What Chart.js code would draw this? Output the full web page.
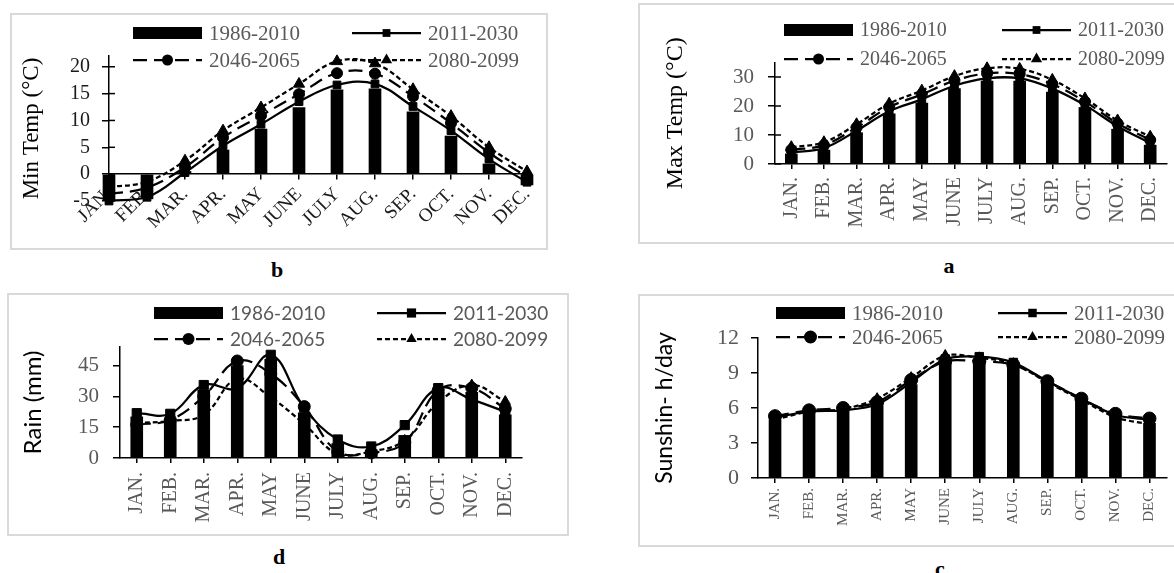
<!DOCTYPE html>
<html>
<head>
<meta charset="utf-8">
<script src="https://cdn.jsdelivr.net/npm/chart.js@4.4.1/dist/chart.umd.min.js"></script>
<style>
  body { margin: 0; width: 1174px; height: 573px; overflow: hidden; background: #fff; position: relative; }
  .box { position: absolute; border: 2px solid #d9d9d9; box-sizing: border-box; }
  canvas { position: absolute; }
  .tag { position: absolute; font: bold 22px "Liberation Serif", serif; transform: translate(-50%, -50%); }
</style>
</head>
<body>
<div class="box" style="left:10px;top:13px;width:538px;height:237px"></div>
<canvas id="chartB" width="538" height="236" style="left:10px;top:13px"></canvas>
<div class="tag" style="left:277px;top:270px">b</div>

<div class="box" style="left:638px;top:3px;width:560px;height:241px"></div>
<canvas id="chartA" width="536" height="240" style="left:638px;top:3px"></canvas>
<div class="tag" style="left:949px;top:266px">a</div>

<div class="box" style="left:7px;top:293px;width:562px;height:243px"></div>
<canvas id="chartD" width="561" height="242" style="left:7px;top:293px"></canvas>
<div class="tag" style="left:279px;top:557px">d</div>

<div class="box" style="left:638px;top:294px;width:560px;height:253px"></div>
<canvas id="chartC" width="536" height="252" style="left:638px;top:294px"></canvas>
<div class="tag" style="left:940px;top:569px">c</div>

<script>
const months = ['JAN.', 'FEB.', 'MAR.', 'APR.', 'MAY', 'JUNE', 'JULY', 'AUG.', 'SEP.', 'OCT.', 'NOV.', 'DEC.'];
const periods = ['1986-2010', '2011-2030', '2046-2065', '2080-2099'];

// b - minimum temperature (°C)
const minTemp1986 = [-4.9, -4.6, 0.5, 4.5, 8.4, 12.4, 15.7, 15.9, 11.6, 7.1, 1.9, -2.0];
const minTemp2011 = [-5.0, -4.3, 0.3, 5.3, 9.3, 13.5, 16.6, 16.8, 12.6, 8.1, 2.8, -1.5];
const minTemp2046 = [-3.7, -2.5, 1.3, 6.8, 10.9, 14.9, 18.8, 18.7, 14.5, 9.5, 4.0, -0.5];
const minTemp2080 = [-2.4, -1.4, 2.5, 8.1, 12.4, 16.8, 21.0, 20.6, 15.8, 10.8, 5.0, 0.5];
const minTempTicks = [-5, 0, 5, 10, 15, 20];

// a - maximum temperature (°C)
const maxTemp1986 = [3.5, 4.8, 10.8, 17.3, 21.0, 26.0, 28.6, 28.6, 24.8, 19.5, 12.0, 6.5];
const maxTemp2011 = [4.0, 5.5, 11.5, 18.2, 22.3, 27.0, 29.5, 29.5, 26.0, 20.3, 13.0, 7.2];
const maxTemp2046 = [4.9, 6.5, 12.6, 19.6, 24.0, 28.7, 31.2, 31.0, 27.5, 21.5, 14.0, 8.3];
const maxTemp2080 = [5.8, 7.5, 13.7, 20.8, 25.3, 30.3, 33.0, 32.8, 29.0, 22.6, 15.0, 9.4];
const maxTempTicks = [0, 10, 20, 30];

// d - rain (mm)
const rain1986 = [20, 19, 33, 45, 48, 22, 7, 4, 11, 32, 32, 21];
const rain2011 = [21.8, 21.5, 35.5, 34.0, 50.2, 24.5, 9.0, 5.6, 16.0, 34.0, 28.5, 22.5];
const rain2046 = [16.2, 18.5, 30.0, 47.2, 41.0, 25.0, 3.0, 2.5, 7.5, 33.0, 34.0, 24.0];
const rain2080 = [17.0, 18.0, 21.0, 38.5, 29.5, 16.5, 2.0, 3.2, 8.5, 27.0, 35.5, 27.5];
const rainTicks = [0, 15, 30, 45];

// c - sunshine (h/day)
const sun1986 = [5.0, 5.6, 5.8, 6.2, 8.0, 9.9, 10.1, 9.6, 8.2, 6.7, 5.3, 4.7];
const sun2011 = [5.2, 5.7, 5.8, 6.3, 8.2, 10.2, 10.4, 9.9, 8.3, 6.8, 5.4, 5.0];
const sun2046 = [5.3, 5.8, 6.0, 6.5, 8.4, 10.0, 10.0, 9.7, 8.3, 6.8, 5.5, 5.1];
const sun2080 = [5.0, 5.7, 5.9, 6.8, 8.6, 10.5, 10.3, 9.8, 8.2, 6.7, 5.2, 4.6];
const sunTicks = [0, 3, 6, 9, 12];

const SERIF = '"Liberation Serif", "Times New Roman", serif';
const SANS = 'Lato, "Liberation Sans", sans-serif';
const GREY = '#595959';

function drawMarker(ctx, style, x, y, r) {
  ctx.beginPath();
  if (style === 'rect') {
    const h = r * Math.SQRT1_2;
    ctx.rect(x - h, y - h, 2 * h, 2 * h);
  } else if (style === 'triangle') {
    for (let k = 0; k < 3; k++) {
      const a = k * 2 * Math.PI / 3;
      const px = x + Math.sin(a) * r, py = y - Math.cos(a) * r;
      k ? ctx.lineTo(px, py) : ctx.moveTo(px, py);
    }
    ctx.closePath();
  } else {
    ctx.arc(x, y, r, 0, Math.PI * 2);
  }
  ctx.fill();
}

// two-column legend like the Excel one, drawn at fixed spots
const panelLegend = {
  id: 'panelLegend',
  afterDraw(chart, args, opts) {
    const ctx = chart.ctx;
    ctx.save();
    // excel "cross" tick marks: the inner half of each y tick
    if (opts.crossTicks) {
      const ys = chart.scales.y, left = chart.chartArea.left;
      ctx.strokeStyle = '#000';
      ctx.lineWidth = 1.5;
      ys.ticks.forEach(t => {
        const py = ys.getPixelForValue(t.value);
        ctx.beginPath();
        ctx.moveTo(left, py);
        ctx.lineTo(left + 6, py);
        ctx.stroke();
      });
    }
    ctx.font = opts.size + 'px ' + opts.family;
    ctx.textBaseline = 'middle';
    chart.data.datasets.forEach((ds, i) => {
      const x = i % 2 ? opts.x2 : opts.x1;
      const y = i < 2 ? opts.y1 : opts.y2;
      ctx.fillStyle = '#000';
      ctx.strokeStyle = '#000';
      if (ds.type === 'bar') {
        ctx.fillRect(x, y - 6, 69, 12);
      } else {
        ctx.lineWidth = ds.borderWidth;
        ctx.setLineDash(ds.borderDash || []);
        ctx.beginPath();
        ctx.moveTo(x, y);
        ctx.lineTo(x + 69, y);
        ctx.stroke();
        ctx.setLineDash([]);
        drawMarker(ctx, ds.pointStyle, x + 34.5, y, ds.pointRadius);
      }
      ctx.fillStyle = GREY;
      ctx.fillText(ds.label, x + 76, y + 1);
    });
    ctx.restore();
  }
};

function lineSet(label, data, dash, style, r, tension) {
  return {
    type: 'line', label: label, data: data, order: 1,
    borderColor: '#000', borderWidth: 2.25, borderDash: dash,
    pointStyle: style, pointRadius: r, pointBackgroundColor: '#000',
    pointBorderColor: '#000', pointBorderWidth: 1, tension: tension,
    fill: false, clip: false
  };
}

function makeChart(id, o) {
  const datasets = [
    { type: 'bar', label: periods[0], data: o.series[0], backgroundColor: '#000',
      barThickness: 12, order: 2, clip: false },
    lineSet(periods[1], o.series[1], [], 'rect', o.r[0], o.tension),
    lineSet(periods[2], o.series[2], [14, 7], 'circle', o.r[1], o.tension),
    lineSet(periods[3], o.series[3], [5, 3], 'triangle', o.r[2], o.tension)
  ];
  return new Chart(document.getElementById(id), {
    type: 'bar',
    data: { labels: months, datasets: datasets },
    options: {
      responsive: false,
      animation: false,
      devicePixelRatio: 1,
      layout: { padding: o.pad },
      plugins: {
        legend: { display: false },
        tooltip: { enabled: false },
        panelLegend: o.legend
      },
      scales: {
        x: {
          position: o.xAtZero ? { y: 0 } : 'bottom',
          offset: !o.xAtZero,
          grid: { drawOnChartArea: false, offset: false, tickLength: 5, color: '#000', lineWidth: 1.5 },
          border: { color: '#000', width: 1.5 },
          ticks: {
            autoSkip: false, maxRotation: o.rot, minRotation: o.rot, padding: o.xPad,
            color: o.tickColor, font: { family: SERIF, size: o.xSize }
          },
          afterFit: s => {
            if (o.xH) s.height = o.xH;
            s.paddingLeft = 0;
            s.paddingRight = 0;
          }
        },
        y: {
          min: o.min, max: o.max,
          afterBuildTicks: s => { s.ticks = o.ticks.map(v => ({ value: v })); },
          afterFit: s => { s.width = o.yW; },
          grid: { drawOnChartArea: false, tickLength: 7, color: '#000', lineWidth: 1.5 },
          border: { color: '#000', width: 1.5 },
          ticks: { padding: o.yPad, color: o.tickColor, font: { family: SERIF, size: o.ySize } },
          title: {
            display: true, text: o.title, color: '#000',
            font: { family: o.titleFont, size: o.titleSize },
            padding: { top: o.titlePad, bottom: 0 }
          }
        }
      }
    },
    plugins: [panelLegend]
  });
}

Chart.defaults.font.family = SERIF;

makeChart('chartB', {
  series: [minTemp1986, minTemp2011, minTemp2046, minTemp2080],
  min: -5, max: 22, ticks: minTempTicks,
  title: 'Min Temp (°C)', titleFont: SERIF, titleSize: 23, titlePad: 8,
  pad: { left: 0, right: 21, top: 43, bottom: 48 },
  yW: 99, yPad: 12, ySize: 20, xAtZero: true, rot: 45, xPad: 4, xSize: 19,
  tickColor: '#1a1a1a', r: [5.5, 5.5, 6.5], tension: 0.4,
  legend: { x1: 123, x2: 342, y1: 20, y2: 47, size: 21, family: SERIF, crossTicks: true }
});

makeChart('chartA', {
  series: [maxTemp1986, maxTemp2011, maxTemp2046, maxTemp2080],
  min: 0, max: 35, ticks: maxTempTicks,
  title: 'Max Temp (°C)', titleFont: SERIF, titleSize: 24, titlePad: 23,
  pad: { left: 0, right: 0, top: 59.5, bottom: 0 },
  yW: 137, yPad: 14, ySize: 21, xH: 79, rot: 90, xPad: 8, xSize: 20,
  tickColor: GREY, r: [5.5, 5.5, 6.5], tension: 0.4,
  legend: { x1: 146, x2: 364, y1: 27, y2: 56, size: 20, family: SERIF, crossTicks: true }
});

makeChart('chartD', {
  series: [rain1986, rain2011, rain2046, rain2080],
  min: 0, max: 54, ticks: rainTicks,
  title: 'Rain (mm)', titleFont: SANS, titleSize: 24, titlePad: 12,
  pad: { left: 0, right: 46, top: 54, bottom: 0 },
  yW: 113, yPad: 14, ySize: 21, xH: 77, rot: 90, xPad: 9, xSize: 20,
  tickColor: GREY, r: [6.5, 6, 6], tension: 0.4,
  legend: { x1: 147, x2: 370, y1: 20, y2: 46, size: 19, family: SANS }
});

makeChart('chartC', {
  series: [sun1986, sun2011, sun2046, sun2080],
  min: 0, max: 12, ticks: sunTicks,
  title: 'Sunshin- h/day', titleFont: SANS, titleSize: 23, titlePad: 13,
  pad: { left: 0, right: 0, top: 44, bottom: 0 },
  yW: 120, yPad: 12, ySize: 22, xH: 68, rot: 90, xPad: 5, xSize: 15,
  tickColor: GREY, r: [6, 6.5, 6], tension: 0.3,
  legend: { x1: 138, x2: 360, y1: 19, y2: 43, size: 21, family: SERIF }
});
</script>
</body>
</html>
